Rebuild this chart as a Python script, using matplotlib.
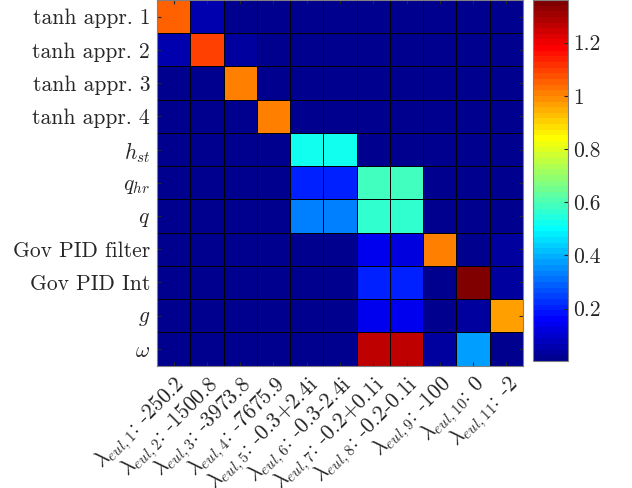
import numpy as np
import matplotlib
matplotlib.use("Agg")
import matplotlib.pyplot as plt
from matplotlib.colors import ListedColormap

plt.rcParams['mathtext.fontset'] = 'cm'
plt.rcParams['font.family'] = ['cmr10', 'DejaVu Serif']
plt.rcParams['axes.unicode_minus'] = False

states = [r'tanh appr. 1', r'tanh appr. 2', r'tanh appr. 3', r'tanh appr. 4',
          r'$h_{st}$', r'$q_{hr}$', r'$q$', r'Gov PID filter', r'Gov PID Int',
          r'$g$', r'$\omega$']
eig_labels = [r'$\lambda_{eul,1}$: -250.2', r'$\lambda_{eul,2}$: -1500.8',
              r'$\lambda_{eul,3}$: -3973.8', r'$\lambda_{eul,4}$: -7675.9',
              r'$\lambda_{eul,5}$: -0.3+2.4i', r'$\lambda_{eul,6}$: -0.3-2.4i',
              r'$\lambda_{eul,7}$: -0.2+0.1i', r'$\lambda_{eul,8}$: -0.2-0.1i',
              r'$\lambda_{eul,9}$: -100', r'$\lambda_{eul,10}$: 0',
              r'$\lambda_{eul,11}$: -2']

row_tanh1 = [1.057, 0.057, 0.015, 0.015, 0.015, 0.015, 0.015, 0.015, 0.015, 0.015, 0.015]
row_tanh2 = [0.057, 1.085, 0.045, 0.015, 0.015, 0.015, 0.015, 0.015, 0.015, 0.015, 0.015]
row_tanh3 = [0.015, 0.02, 1.02, 0.02, 0.015, 0.015, 0.015, 0.015, 0.015, 0.015, 0.015]
row_tanh4 = [0.015, 0.015, 0.02, 1.02, 0.015, 0.015, 0.015, 0.015, 0.015, 0.015, 0.015]
row_hst = [0.015, 0.015, 0.015, 0.015, 0.53, 0.53, 0.015, 0.015, 0.015, 0.015, 0.02]
row_qhr = [0.015, 0.015, 0.015, 0.015, 0.21, 0.215, 0.585, 0.585, 0.015, 0.015, 0.02]
row_q = [0.015, 0.015, 0.015, 0.015, 0.34, 0.34, 0.56, 0.56, 0.015, 0.015, 0.02]
row_govf = [0.015, 0.015, 0.015, 0.015, 0.02, 0.02, 0.136, 0.13, 1.02, 0.02, 0.045]
row_govi = [0.015, 0.015, 0.015, 0.015, 0.02, 0.02, 0.215, 0.21, 0.02, 1.36, 0.035]
row_g = [0.015, 0.015, 0.015, 0.015, 0.02, 0.02, 0.14, 0.135, 0.02, 0.025, 0.976]
row_omega = [0.015, 0.015, 0.015, 0.015, 0.02, 0.02, 1.275, 1.275, 0.025, 0.384, 0.02]

data = np.array([row_tanh1, row_tanh2, row_tanh3, row_tanh4, row_hst, row_qhr,
                 row_q, row_govf, row_govi, row_g, row_omega])


def matlab_jet(m=64):
    n = int(np.ceil(m / 4))
    u = np.concatenate([np.arange(1, n + 1) / n, np.ones(n - 1),
                        np.arange(n, 0, -1) / n])
    g = int(np.ceil(n / 2)) - (1 if m % 4 == 1 else 0) + np.arange(1, len(u) + 1)
    r = g + n
    b = g - n
    J = np.zeros((m, 3))
    rr = r[r <= m]
    gg = g[g <= m]
    bb = b[b >= 1]
    J[rr - 1, 0] = u[:len(rr)]
    J[gg - 1, 1] = u[:len(gg)]
    J[bb - 1, 2] = u[len(u) - len(bb):]
    return ListedColormap(J)


fig = plt.figure(figsize=(6.32, 4.88), dpi=100)
ax = fig.add_axes([0.2484, 0.251, 0.5791, 0.749])
cax = fig.add_axes([0.8434, 0.2602, 0.0554, 0.7398])

cmap = matlab_jet(64)
n = len(states)
mesh = ax.pcolormesh(np.arange(n + 1) + 0.5, np.arange(n + 1) + 0.5, data,
                     cmap=cmap, vmin=0.003, vmax=1.36,
                     edgecolors='k', linewidth=0.6)
ax.set_xlim(0.5, n + 0.5)
ax.set_ylim(n + 0.5, 0.5)
ax.set_xticks(np.arange(1, n + 1))
ax.set_yticks(np.arange(1, n + 1))
ax.set_yticklabels(states, fontsize=15.5, color='#262626')
ax.set_xticklabels(eig_labels, fontsize=15.5, rotation=45, ha='right',
                   rotation_mode='anchor', color='#262626')
ax.tick_params(direction='in', length=3, top=True, right=True, color='#262626',
               pad=5)
for s in ax.spines.values():
    s.set_color('#808080')

cb = fig.colorbar(mesh, cax=cax)
cb.set_ticks([0.2, 0.4, 0.6, 0.8, 1.0, 1.2])
cb.set_ticklabels(['0.2', '0.4', '0.6', '0.8', '1', '1.2'])
cb.ax.tick_params(labelsize=15.5, direction='in', length=3, colors='#262626')
cb.outline.set_edgecolor('#808080')

fig.savefig('out.png', dpi=100)
